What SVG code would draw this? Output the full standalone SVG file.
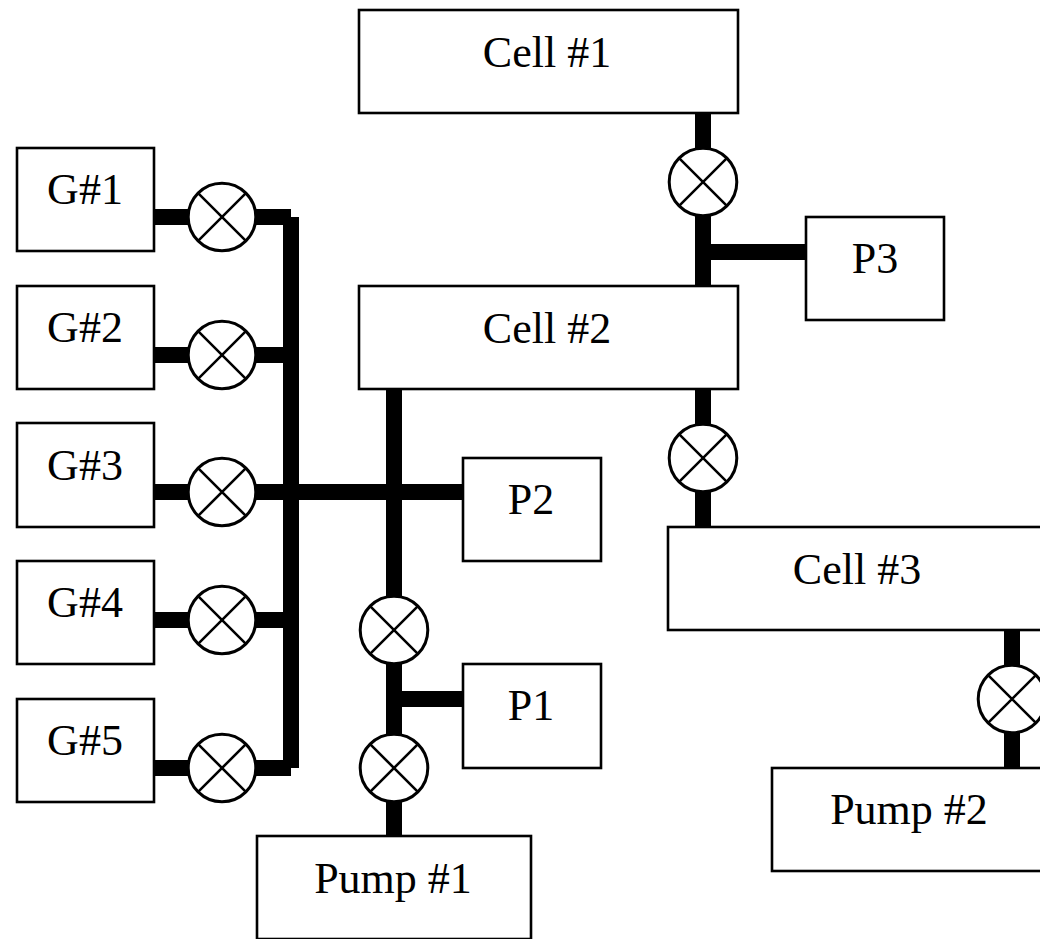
<svg xmlns="http://www.w3.org/2000/svg" width="1040" height="939" viewBox="0 0 1040 939">
<style>
.b{fill:#fff;stroke:#000;stroke-width:2.6}
.l{stroke:#000;stroke-width:16;fill:none}
.vc{fill:#fff;stroke:#000;stroke-width:3}
.vx{stroke:#000;stroke-width:2.6;fill:none}
text{font-family:"Liberation Serif","Times New Roman",serif;font-size:44px;fill:#000;text-anchor:middle}
</style>
<defs><g id="valve"><circle class="vc" r="33.8"/><path class="vx" d="M-24.4-24.4L24.4 24.4M-24.4 24.4L24.4-24.4"/></g></defs>
<rect width="1040" height="939" fill="#fff"/>
<g id="connectors">
<path class="l" d="M703 113V286M703 252H806M703 389V527M1012 630V768M291 217V768M153 217H291M153 355H291M153 492H463M153 620H291M153 768H291M394 389V836M394 699H463"/>
</g>
<g id="cell1"><rect class="b" x="359" y="10" width="379" height="103"/><text x="547" y="66.5">Cell #1</text></g>
<g id="cell2"><rect class="b" x="359" y="286" width="379" height="103"/><text x="547" y="342.5">Cell #2</text></g>
<g id="cell3"><rect class="b" x="668" y="527" width="379" height="103"/><text x="857" y="583.5">Cell #3</text></g>
<g id="p3"><rect class="b" x="806" y="217" width="138" height="103"/><text x="875" y="273">P3</text></g>
<g id="p2"><rect class="b" x="463" y="458" width="138" height="103"/><text x="531" y="514">P2</text></g>
<g id="p1"><rect class="b" x="463" y="664" width="138" height="104"/><text x="531" y="720">P1</text></g>
<g id="g1"><rect class="b" x="17" y="148" width="137" height="103"/><text x="85" y="204">G#1</text></g>
<g id="g2"><rect class="b" x="17" y="286" width="137" height="103"/><text x="85" y="342">G#2</text></g>
<g id="g3"><rect class="b" x="17" y="423" width="137" height="104"/><text x="85" y="480">G#3</text></g>
<g id="g4"><rect class="b" x="17" y="561" width="137" height="103"/><text x="85" y="617">G#4</text></g>
<g id="g5"><rect class="b" x="17" y="699" width="137" height="103"/><text x="85" y="755">G#5</text></g>
<g id="pump1"><rect class="b" x="257" y="836" width="274" height="103"/><text x="393" y="893">Pump #1</text></g>
<g id="pump2"><rect class="b" x="772" y="768" width="300" height="103"/><text x="909" y="824">Pump #2</text></g>
<g id="v1"><use href="#valve" x="703" y="182"/></g>
<g id="v2"><use href="#valve" x="703" y="458"/></g>
<g id="v3"><use href="#valve" x="1012" y="699"/></g>
<g id="v4"><use href="#valve" x="222" y="217"/></g>
<g id="v5"><use href="#valve" x="222" y="355"/></g>
<g id="v6"><use href="#valve" x="222" y="492"/></g>
<g id="v7"><use href="#valve" x="222" y="620"/></g>
<g id="v8"><use href="#valve" x="222" y="768"/></g>
<g id="v9"><use href="#valve" x="394" y="630"/></g>
<g id="v10"><use href="#valve" x="394" y="768"/></g>
</svg>
